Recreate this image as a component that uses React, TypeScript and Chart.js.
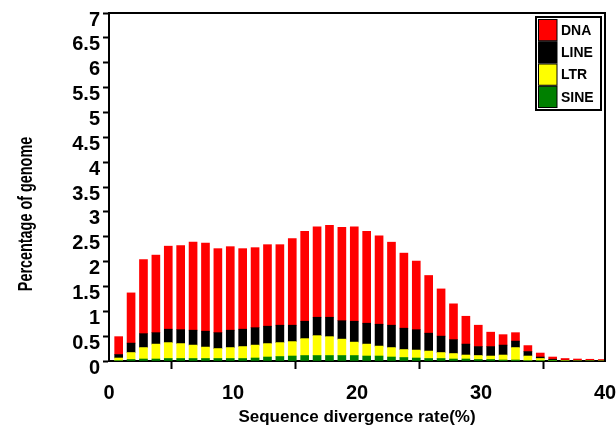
import React, { useEffect, useRef } from 'react';
import { Chart, registerables } from 'chart.js';

Chart.register(...registerables);

const FONT = '"Liberation Sans", Arial, Helvetica, sans-serif';

// Divergence bins (%), 1..40
const divergenceBins = [
  1, 2, 3, 4, 5, 6, 7, 8, 9, 10,
  11, 12, 13, 14, 15, 16, 17, 18, 19, 20,
  21, 22, 23, 24, 25, 26, 27, 28, 29, 30,
  31, 32, 33, 34, 35, 36, 37, 38, 39, 40,
];
const BIN_SHIFT = -0.22;

const sineValues = [
  0.01, 0.03, 0.04, 0.04, 0.05, 0.05, 0.05, 0.05, 0.05, 0.05,
  0.05, 0.06, 0.08, 0.09, 0.10, 0.11, 0.11, 0.11, 0.11, 0.11,
  0.10, 0.10, 0.08, 0.07, 0.06, 0.05, 0.05, 0.04, 0.04, 0.03,
  0.03, 0.02, 0.02, 0.01, 0.01, 0.005, 0, 0, 0, 0,
];
const ltrValues = [
  0.05, 0.14, 0.23, 0.30, 0.32, 0.30, 0.27, 0.23, 0.20, 0.22,
  0.24, 0.26, 0.27, 0.28, 0.29, 0.34, 0.40, 0.38, 0.33, 0.27,
  0.24, 0.20, 0.19, 0.16, 0.16, 0.15, 0.12, 0.11, 0.08, 0.08,
  0.07, 0.10, 0.25, 0.09, 0.04, 0.01, 0.01, 0, 0, 0,
];
const lineValues = [
  0.07, 0.19, 0.28, 0.23, 0.27, 0.28, 0.30, 0.32, 0.32, 0.35,
  0.35, 0.35, 0.35, 0.35, 0.33, 0.35, 0.37, 0.39, 0.37, 0.42,
  0.42, 0.44, 0.45, 0.43, 0.41, 0.36, 0.33, 0.28, 0.22, 0.18,
  0.19, 0.20, 0.13, 0.09, 0.03, 0.02, 0.005, 0.01, 0.005, 0,
];
const dnaValues = [
  0.36, 1.01, 1.49, 1.56, 1.67, 1.69, 1.77, 1.77, 1.69, 1.68,
  1.62, 1.61, 1.64, 1.62, 1.74, 1.81, 1.82, 1.85, 1.88, 1.90,
  1.85, 1.78, 1.67, 1.51, 1.38, 1.16, 0.95, 0.72, 0.56, 0.43,
  0.29, 0.21, 0.17, 0.12, 0.08, 0.045, 0.035, 0.03, 0.03, 0.03,
];

const legendItems = [
  { label: 'DNA', color: '#ff0000' },
  { label: 'LINE', color: '#000000' },
  { label: 'LTR', color: '#ffff00' },
  { label: 'SINE', color: '#008000' },
];

const xTitle = 'Sequence divergence rate(%)';
const yTitle = 'Percentage of genome';

const toPoints = (vals: number[]) =>
  vals.map((v, i) => ({ x: divergenceBins[i] + BIN_SHIFT, y: v }));

const decorPlugin = {
  id: 'decor',
  afterDraw(chart: any) {
    const { ctx, chartArea } = chart;
    ctx.save();
    // frame top & right
    ctx.strokeStyle = '#000';
    ctx.lineWidth = 2;
    ctx.beginPath();
    ctx.moveTo(chartArea.left - 1, chartArea.top);
    ctx.lineTo(chartArea.right, chartArea.top);
    ctx.lineTo(chartArea.right, chartArea.bottom);
    ctx.stroke();

    // axis titles
    ctx.fillStyle = '#000';
    ctx.font = `bold 17px ${FONT}`;
    ctx.textAlign = 'center';
    ctx.textBaseline = 'middle';
    ctx.fillText(xTitle, 357, 417);
    ctx.save();
    ctx.translate(26, 214);
    ctx.rotate(-Math.PI / 2);
    ctx.scale(0.72, 1);
    ctx.font = `bold 20px ${FONT}`;
    ctx.fillText(yTitle, 0, 0);
    ctx.restore();

    // legend
    const lx = 536, ly = 17, lw = 65, lh = 93;
    ctx.fillStyle = '#fff';
    ctx.fillRect(lx, ly, lw, lh);
    const rowH = (lh - 4) / legendItems.length;
    legendItems.forEach((it, i) => {
      const y = ly + 2 + i * rowH;
      ctx.fillStyle = it.color;
      ctx.fillRect(lx + 2, y + 0.5, 19, rowH - 1);
      ctx.strokeStyle = '#000';
      ctx.lineWidth = 1;
      ctx.strokeRect(lx + 2.5, y + 0.5, 18.5, rowH - 1);
      ctx.fillStyle = '#000';
      ctx.font = `bold 14px ${FONT}`;
      ctx.textAlign = 'left';
      ctx.textBaseline = 'middle';
      ctx.fillText(it.label, lx + 25, y + rowH / 2 + 1);
    });
    ctx.strokeStyle = '#000';
    ctx.lineWidth = 2;
    ctx.strokeRect(lx, ly, lw, lh);
    ctx.restore();
  },
};

export default function App() {
  const canvasRef = useRef<HTMLCanvasElement | null>(null);

  useEffect(() => {
    if (!canvasRef.current) return;
    const chart = new Chart(canvasRef.current, {
      type: 'bar',
      data: {
        datasets: [
          { label: 'SINE', data: toPoints(sineValues) as any, backgroundColor: '#008000' },
          { label: 'LTR', data: toPoints(ltrValues) as any, backgroundColor: '#ffff00' },
          { label: 'LINE', data: toPoints(lineValues) as any, backgroundColor: '#000000' },
          { label: 'DNA', data: toPoints(dnaValues) as any, backgroundColor: '#ff0000' },
        ],
      },
      options: {
        responsive: false,
        animation: false,
        devicePixelRatio: 1,
        layout: { padding: { left: 0, right: 11, top: 13, bottom: 0 } },
        datasets: { bar: { barThickness: 8, borderWidth: 0 } } as any,
        plugins: {
          legend: { display: false },
          tooltip: { enabled: false },
          title: { display: false },
        },
        scales: {
          x: {
            type: 'linear',
            stacked: true,
            min: 0,
            max: 40,
            offset: false,
            afterFit: (s: any) => {
              s.height = 74;
              s.paddingLeft = 0;
              s.paddingRight = 0;
            },
            ticks: {
              stepSize: 10,
              color: '#000',
              font: { family: FONT, size: 20, weight: 'bold' },
              padding: 12,
              maxRotation: 0,
              autoSkip: false,
            },
            grid: {
              display: true,
              drawOnChartArea: false,
              drawTicks: true,
              tickLength: 8,
              tickWidth: 2,
              tickColor: '#000',
              color: '#000',
            },
            border: { display: true, color: '#000', width: 2 },
          },
          y: {
            type: 'linear',
            stacked: true,
            min: 0,
            max: 7,
            afterFit: (s: any) => {
              s.width = 109;
              s.paddingTop = 0;
              s.paddingBottom = 0;
            },
            ticks: {
              stepSize: 0.5,
              autoSkip: false,
              color: '#000',
              font: { family: FONT, size: 20, weight: 'bold' },
              padding: 3,
              labelOffset: 7,
              callback: (v: any) => String(Number(Number(v).toFixed(1))),
            },
            grid: {
              display: true,
              drawOnChartArea: false,
              drawTicks: true,
              tickLength: 6,
              tickWidth: 2,
              tickColor: '#000',
              color: '#000',
            },
            border: { display: true, color: '#000', width: 2 },
          },
        },
      },
      plugins: [decorPlugin],
    });
    return () => chart.destroy();
  }, []);

  return (
    <div style={{ position: 'fixed', left: 0, top: 0, width: 616, height: 435, background: '#fff' }}>
      <canvas ref={canvasRef} width={616} height={435} />
    </div>
  );
}
